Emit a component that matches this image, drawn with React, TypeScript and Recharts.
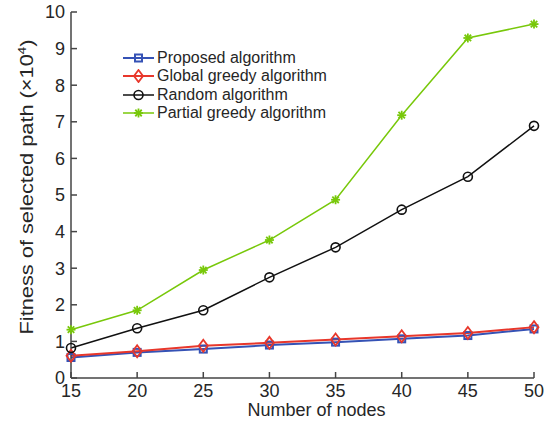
import { LineChart, Line, XAxis, YAxis, Legend } from 'recharts'

const NODES = [15, 20, 25, 30, 35, 40, 45, 50]
const PROPOSED = [0.56, 0.7, 0.79, 0.9, 0.98, 1.07, 1.16, 1.34]
const GLOBAL_GREEDY = [0.61, 0.73, 0.88, 0.96, 1.05, 1.14, 1.23, 1.39]
const RANDOM = [0.82, 1.36, 1.85, 2.75, 3.57, 4.6, 5.5, 6.89]
const PARTIAL_GREEDY = [1.32, 1.85, 2.95, 3.77, 4.87, 7.18, 9.29, 9.67]
const Y_TICKS = [0, 1, 2, 3, 4, 5, 6, 7, 8, 9, 10]

const AXIS = '#454545'
const TEXT = '#262626'
const FONT = '"Liberation Sans", Arial, Helvetica, sans-serif'

type Marker = 'square' | 'diamond' | 'circle' | 'asterisk'

const SERIES: { key: string; name: string; color: string; marker: Marker; width: number }[] = [
  { key: 'proposed', name: 'Proposed algorithm', color: '#3552b5', marker: 'square', width: 2 },
  { key: 'global', name: 'Global greedy algorithm', color: '#e8372b', marker: 'diamond', width: 2 },
  { key: 'random', name: 'Random algorithm', color: '#111111', marker: 'circle', width: 1.5 },
  { key: 'partial', name: 'Partial greedy algorithm', color: '#78c80a', marker: 'asterisk', width: 1.5 },
]

const data = NODES.map((n, i) => ({
  nodes: n,
  proposed: PROPOSED[i],
  global: GLOBAL_GREEDY[i],
  random: RANDOM[i],
  partial: PARTIAL_GREEDY[i],
}))

function MarkerShape({ kind, cx, cy, color }: { kind: Marker; cx: number; cy: number; color: string }) {
  if (kind === 'square') {
    return <rect x={cx - 3.5} y={cy - 3.5} width={7} height={7} fill="none" stroke={color} strokeWidth={2} />
  }
  if (kind === 'diamond') {
    return (
      <path
        d={`M${cx},${cy - 6}L${cx + 4.5},${cy}L${cx},${cy + 6}L${cx - 4.5},${cy}Z`}
        fill="none"
        stroke={color}
        strokeWidth={1.8}
      />
    )
  }
  if (kind === 'circle') {
    return <circle cx={cx} cy={cy} r={4.5} fill="none" stroke={color} strokeWidth={1.6} />
  }
  // asterisk: four strokes through the point
  const s = 4.5
  const d = s * 0.72
  return (
    <g stroke={color} strokeWidth={1.8}>
      <line x1={cx - s} y1={cy} x2={cx + s} y2={cy} />
      <line x1={cx} y1={cy - s} x2={cx} y2={cy + s} />
      <line x1={cx - d} y1={cy - d} x2={cx + d} y2={cy + d} />
      <line x1={cx - d} y1={cy + d} x2={cx + d} y2={cy - d} />
    </g>
  )
}

function renderLegend() {
  return (
    <div style={{ fontFamily: FONT, fontSize: 16, color: TEXT, lineHeight: '18.3px' }}>
      {SERIES.map((s) => (
        <div key={s.key} style={{ display: 'flex', alignItems: 'center', height: 18.3 }}>
          <svg width={34} height={14} style={{ flex: 'none' }}>
            <line x1={0} y1={7} x2={31} y2={7} stroke={s.color} strokeWidth={s.width} />
            <MarkerShape kind={s.marker} cx={15.5} cy={7} color={s.color} />
          </svg>
          <span style={{ whiteSpace: 'nowrap' }}>{s.name}</span>
        </div>
      ))}
    </div>
  )
}

// eslint-disable-next-line @typescript-eslint/no-explicit-any
function XLabel({ viewBox }: any) {
  const { x, y, width } = viewBox
  return (
    <text x={x + width / 2 + 14} y={y + 38} textAnchor="middle" fill={TEXT} fontSize={18} fontFamily={FONT}>
      Number of nodes
    </text>
  )
}

// eslint-disable-next-line @typescript-eslint/no-explicit-any
function YLabel({ viewBox }: any) {
  const { y, height } = viewBox
  const cx = 33
  const cy = y + height / 2 - 8
  return (
    <text
      x={cx}
      y={cy}
      transform={`rotate(-90 ${cx} ${cy})`}
      textAnchor="middle"
      fill={TEXT}
      fontSize={18}
      fontFamily={FONT}
      textLength={295}
      lengthAdjust="spacingAndGlyphs"
    >
      Fitness of selected path (×10
      <tspan dy={-7} fontSize={11}>4</tspan>
      <tspan dy={7}>)</tspan>
    </text>
  )
}

export default function App() {
  return (
    <div style={{ position: 'absolute', left: 0, top: 0, background: '#fff' }}>
      <LineChart width={551} height={425} data={data} margin={{ top: 12, right: 17, bottom: 0, left: 0 }}>
        <XAxis
          dataKey="nodes"
          type="number"
          domain={[15, 50]}
          ticks={NODES}
          height={47}
          stroke={AXIS}
          strokeWidth={1.5}
          tickSize={-6}
          tickMargin={12}
          tick={{ fill: TEXT, fontSize: 18, fontFamily: FONT }}
          label={<XLabel />}
        />
        <XAxis
          xAxisId="top"
          orientation="top"
          dataKey="nodes"
          type="number"
          domain={[15, 50]}
          ticks={NODES}
          height={0}
          stroke={AXIS}
          strokeWidth={1.5}
          tickSize={-6}
          tick={false}
        />
        <YAxis
          type="number"
          domain={[0, 10]}
          ticks={Y_TICKS}
          width={71}
          stroke={AXIS}
          strokeWidth={1.5}
          tickSize={-6}
          tickMargin={12}
          tick={{ fill: TEXT, fontSize: 18, fontFamily: FONT }}
          label={<YLabel />}
        />
        <YAxis
          yAxisId="right"
          orientation="right"
          type="number"
          domain={[0, 10]}
          ticks={Y_TICKS}
          width={0}
          stroke={AXIS}
          strokeWidth={1.5}
          tickSize={-6}
          tick={false}
        />
        {SERIES.map((s) => (
          <Line
            key={s.key}
            dataKey={s.key}
            name={s.name}
            stroke={s.color}
            strokeWidth={s.width}
            isAnimationActive={false}
            // eslint-disable-next-line @typescript-eslint/no-explicit-any
            dot={(p: any) => <MarkerShape key={`${s.key}-${p.index}`} kind={s.marker} cx={p.cx} cy={p.cy} color={s.color} />}
            activeDot={false}
          />
        ))}
        <Legend
          layout="vertical"
          align="center"
          verticalAlign="middle"
          content={renderLegend}
          wrapperStyle={{ left: 123, top: 49, width: 'auto', height: 'auto' }}
        />
      </LineChart>
    </div>
  )
}
